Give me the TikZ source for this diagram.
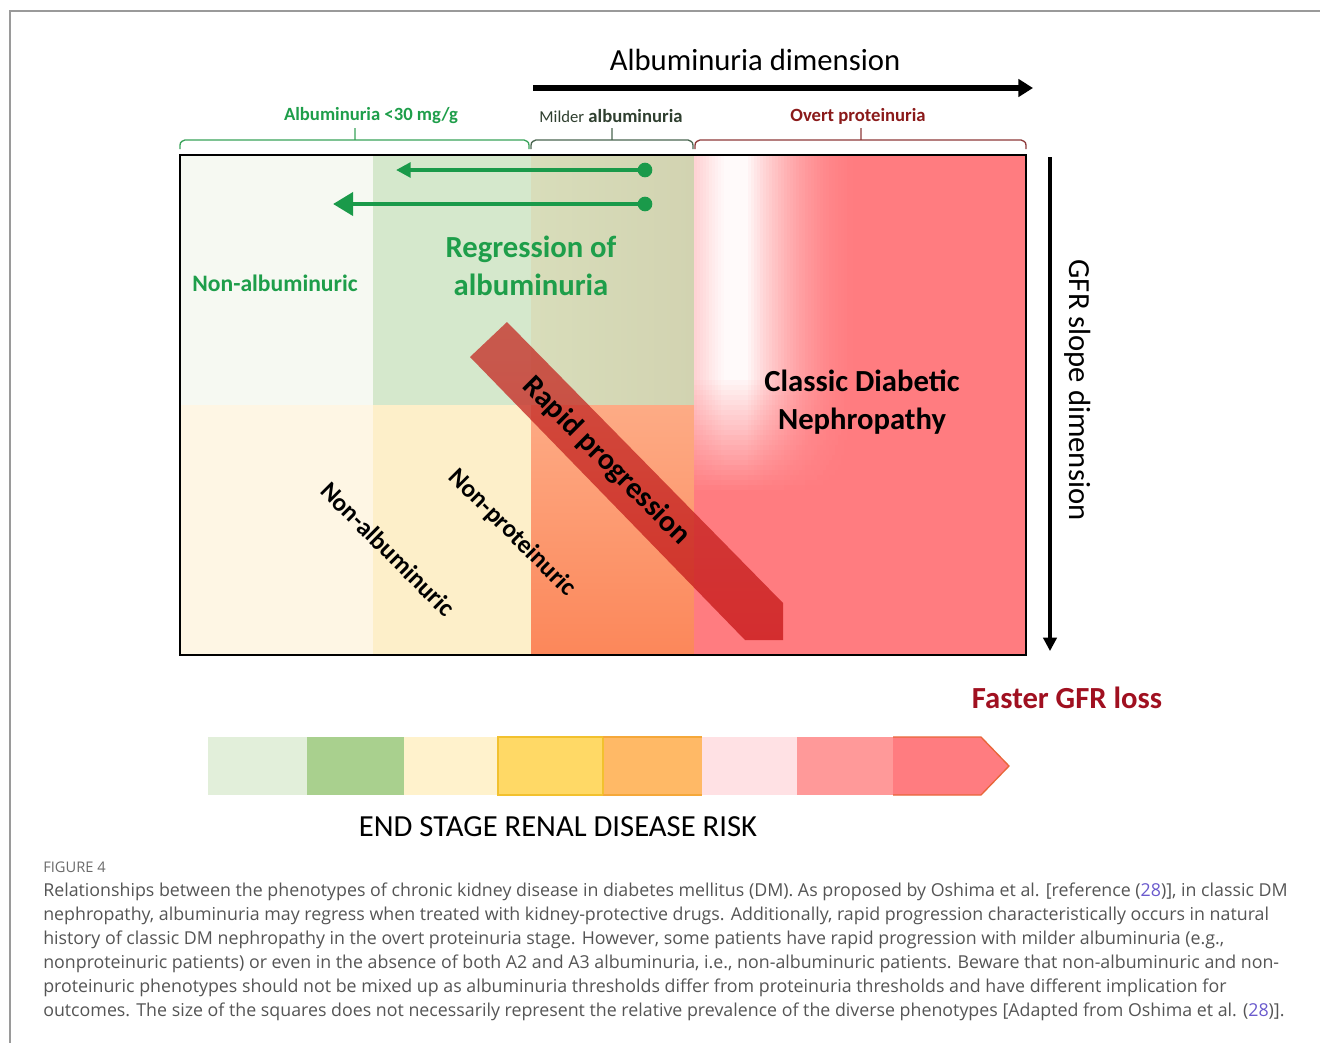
\documentclass[tikz,border=0pt]{standalone}
\usepackage{fontspec}
\setmainfont{Carlito}
\newfontfamily\capfont{Open Sans}
\usetikzlibrary{arrows.meta}
\definecolor{cGreenTxt}{HTML}{1E9E4A}
\definecolor{cArrowG}{HTML}{1A9A4A}
\definecolor{cTL}{HTML}{F6F9F2}
\definecolor{cTM}{HTML}{D5E8CC}
\definecolor{cTR1}{HTML}{D8DDBA}
\definecolor{cTR2}{HTML}{D2D3B1}
\definecolor{cBL}{HTML}{FEF6E4}
\definecolor{cBM}{HTML}{FDEFC9}
\definecolor{cBR1}{HTML}{FDAB85}
\definecolor{cBR2}{HTML}{FC875A}
\definecolor{cRed}{HTML}{FF7C80}
\definecolor{cRP1}{HTML}{C5372E}
\definecolor{cRP2}{HTML}{C81A1B}
\definecolor{cDarkRed}{HTML}{A01020}
\definecolor{cOvert}{HTML}{8B1A1A}
\definecolor{cMild}{HTML}{2F3F2F}
\definecolor{cBrG}{HTML}{3AA35A}
\definecolor{cBrM}{HTML}{4A6650}
\definecolor{cBrR}{HTML}{8E3A3A}
\definecolor{cCap}{HTML}{555555}
\definecolor{cFig}{HTML}{6B6B6B}
\definecolor{cRef}{HTML}{6A5ACD}
\definecolor{cFrame}{HTML}{9A9A9A}
\definecolor{bA}{HTML}{E2EFDA}
\definecolor{bB}{HTML}{A9D08E}
\definecolor{bC}{HTML}{FFF2CC}
\definecolor{bD}{HTML}{FFD966}
\definecolor{bDd}{HTML}{F2C12E}
\definecolor{bE}{HTML}{FFB966}
\definecolor{bEd}{HTML}{F5A83A}
\definecolor{bF}{HTML}{FFE1E4}
\definecolor{bG}{HTML}{FF9999}
\definecolor{bH}{HTML}{FF7C80}
\definecolor{bHd}{HTML}{E8663A}
\begin{document}
\begin{tikzpicture}[x=0.75pt,y=-0.75pt,
  bigreg/.style={font=\fontsize{23}{28}\selectfont, inner sep=0pt},
  bigbold/.style={font=\bfseries\fontsize{23}{28}\selectfont, inner sep=0pt, align=center},
  diagtxt/.style={font=\bfseries\fontsize{19}{23}\selectfont, inner sep=0pt, rotate=-45},
  toplbl/.style={font=\bfseries\fontsize{14}{17}\selectfont, inner sep=0pt},
  brace/.style={line width=1pt},
  gdot/.style={circle, fill=cArrowG, inner sep=0pt, minimum size=11pt},
  garrow/.style={draw=cArrowG, line width=3.5pt},
  caption/.style={font=\capfont\fontsize{13.35}{18}\selectfont, text=cCap, inner sep=0pt, anchor=base west},
]
\useasboundingbox (0,0) rectangle (1320,1043);
\fill[white] (0,0) rectangle (1320,1043);
% page frame
\draw[cFrame, line width=0.8pt] (1320,11) -- (10,11) -- (10,1043);

% cells
\fill[cTL] (180,155) rectangle (373,405);
\fill[cTM] (373,155) rectangle (531,405);
\shade[left color=cTR1, right color=cTR2] (531,155) rectangle (694,405);
\fill[cBL] (180,405) rectangle (373,655);
\fill[cBM] (373,405) rectangle (531,655);
\shade[top color=cBR1, bottom color=cBR2] (531,405) rectangle (694,655);
\fill[cRed] (694,155) rectangle (1026,655);
% white glow in classic DN column (cell-by-cell blend)
\foreach \xx in {694,697,...,862} {
  \pgfmathsetmacro{\gx}{\xx<722 ? 0.66+0.30*(\xx-694)/28 : (\xx<745 ? 0.96 : 0.96*(max(0,(862-\xx)/117))^2)}
  \foreach \yy in {155,160,...,490} {
    \pgfmathsetmacro{\vy}{\yy<375 ? 1 : max(0,1-(\yy-375)/115)}
    \pgfmathtruncatemacro{\pp}{100*\gx*\vy}
    \fill[white!\pp!cRed] (\xx,\yy) rectangle (\xx+3.4,\yy+5.4);
  }
}

% rapid progression band
\shade[top color=cRP1, bottom color=cRP2, opacity=0.8]
  (470,357) -- (507,322) -- (783,603) -- (783,640) -- (745,640) -- cycle;

% main frame
\draw[line width=1.6pt] (180,155) rectangle (1026,655);

% top axis
\node[bigreg] (albdim) at (755,60) {Albuminuria dimension};
\coordinate (albS) at (533,88);
\coordinate (albE) at (1033,88);
\draw[line width=3.8pt, -{Triangle[length=11pt,width=13pt]}] (albS) -- (albE);

% braces
\draw[brace, cBrG] (180,149) .. controls (180,142) .. (185,140) -- (355,140) -- (355,128) (355,140) -- (524,140) .. controls (529,142) .. (529,149);
\draw[brace, cBrM] (531,149) .. controls (531,142) .. (536,140) -- (612,140) -- (612,128) (612,140) -- (688,140) .. controls (693,142) .. (693,149);
\draw[brace, cBrR] (695,149) .. controls (695,142) .. (700,140) -- (861,140) -- (861,128) (861,140) -- (1021,140) .. controls (1026,142) .. (1026,149);
\node[toplbl, text=cGreenTxt] (lblA) at (371,116) {Albuminuria <30 mg/g};
\node[toplbl, text=cMild] (lblM) at (611,116) {{\mdseries\fontsize{12.5}{15}\selectfont Milder} albuminuria};
\node[toplbl, text=cOvert] (lblO) at (858,116) {Overt proteinuria};

% green regression arrows
\node[gdot] (d1) at (645,170) {};
\node[gdot] (d2) at (645,204) {};
\coordinate (t1) at (396,170);
\coordinate (t2) at (333,204);
\draw[garrow, -{Triangle[length=11pt,width=11pt]}] (d1.center) -- (t1);
\draw[garrow, -{Triangle[length=15pt,width=17pt]}] (d2.center) -- (t2);

% labels in cells
\node[font=\bfseries\fontsize{17.7}{21}\selectfont, text=cGreenTxt, inner sep=0pt] (nonalbG) at (275,283) {Non-albuminuric};
\node[bigbold, text=cGreenTxt] (regr) at (531,266) {Regression of\\albuminuria};
\node[bigbold] (classic) at (862,402) {Classic Diabetic\\Nephropathy};
\node[font=\bfseries\fontsize{22.5}{27}\selectfont, inner sep=0pt, rotate=-45] (rapid) at (606,461) {Rapid progression};
\node[diagtxt] (nonalbD) at (388,549) {Non-albuminuric};
\node[diagtxt] (nonprotD) at (512,533) {Non-proteinuric};

% GFR axis
\coordinate (gfrS) at (1050,157);
\coordinate (gfrE) at (1050,651);
\draw[line width=2.3pt, -{Triangle[length=10pt,width=10pt]}] (gfrS) -- (gfrE);
\node[bigreg, rotate=-90] (gfr) at (1078,390) {GFR slope dimension};

\node[font=\bfseries\fontsize{23}{28}\selectfont, text=cDarkRed, inner sep=0pt] (faster) at (1067,698) {Faster GFR loss};

% risk bar
\fill[bA] (208,737) rectangle (307,795);
\fill[bB] (307,737) rectangle (404,795);
\fill[bC] (404,737) rectangle (498,795);
\fill[bD] (498,737) rectangle (603,795);
\fill[bE] (603,737) rectangle (702,795);
\fill[bF] (702,737) rectangle (797,795);
\fill[bG] (797,737) rectangle (893,795);
\fill[bH] (893,737) -- (981,737) -- (1009,766) -- (981,795) -- (893,795) -- cycle;
\draw[bDd, line width=0.9pt] (498,737) rectangle (603,795);
\draw[bEd, line width=0.9pt] (603,737) -- (702,737) (603,795) -- (702,795);
\draw[bHd, line width=1pt] (893,737) -- (981,737) -- (1009,766) -- (981,795) -- (893,795);
\node[bigreg] (esrd) at (558,827) {END STAGE RENAL DISEASE RISK};

% caption
\node[caption, font=\capfont\fontsize{11}{13}\selectfont, text=cFig] (figno) at (43,872) {FIGURE 4};
\node[caption] (c1) at (43,896) {Relationships between the phenotypes of chronic kidney disease in diabetes mellitus (DM). As proposed by Oshima et al. [reference ({\color{cRef}28})], in classic DM};
\node[caption] (c2) at (43,920) {nephropathy, albuminuria may regress when treated with kidney-protective drugs. Additionally, rapid progression characteristically occurs in natural};
\node[caption] (c3) at (43,944) {history of classic DM nephropathy in the overt proteinuria stage. However, some patients have rapid progression with milder albuminuria (e.g.,};
\node[caption] (c4) at (43,968) {nonproteinuric patients) or even in the absence of both A2 and A3 albuminuria, i.e., non-albuminuric patients. Beware that non-albuminuric and non-};
\node[caption] (c5) at (43,992) {proteinuric phenotypes should not be mixed up as albuminuria thresholds differ from proteinuria thresholds and have different implication for};
\node[caption] (c6) at (43,1016) {outcomes. The size of the squares does not necessarily represent the relative prevalence of the diverse phenotypes [Adapted from Oshima et al. ({\color{cRef}28})].};
\end{tikzpicture}
\end{document}
